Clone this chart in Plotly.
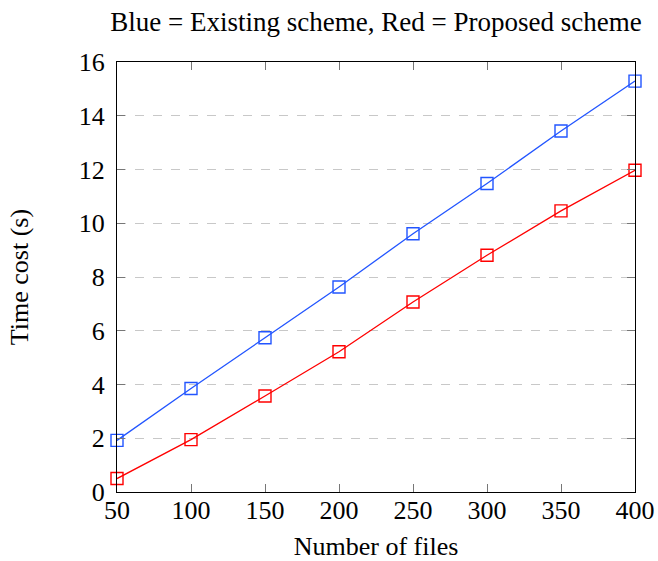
import plotly.graph_objects as go

files = [50, 100, 150, 200, 250, 300, 350, 400]
existing = [1.92, 3.85, 5.74, 7.63, 9.61, 11.48, 13.43, 15.29]
proposed = [0.50, 1.95, 3.57, 5.22, 7.07, 8.81, 10.46, 11.97]
x_ticks = [50, 100, 150, 200, 250, 300, 350, 400]
y_ticks = [0, 2, 4, 6, 8, 10, 12, 14, 16]

fig = go.Figure()
fig.add_trace(go.Scatter(
    x=files, y=existing, mode="lines+markers", name="Existing scheme",
    line=dict(color="#2255ff", width=1.3),
    marker=dict(symbol="square-open", size=12, color="#2255ff", line=dict(width=1.4)),
    cliponaxis=False,
))
fig.add_trace(go.Scatter(
    x=files, y=proposed, mode="lines+markers", name="Proposed scheme",
    line=dict(color="#ff0000", width=1.3),
    marker=dict(symbol="square-open", size=12, color="#ff0000", line=dict(width=1.4)),
    cliponaxis=False,
))

font = dict(family="Liberation Serif", size=26, color="black")
W, H = 658, 561
fig.update_layout(
    width=W, height=H,
    margin=dict(l=117, r=23, t=62, b=69, autoexpand=False),
    paper_bgcolor="white", plot_bgcolor="white",
    showlegend=False,
    font=font,
    title=dict(text="Blue = Existing scheme, Red = Proposed scheme",
               x=0.5, xref="paper", xanchor="center",
               y=1 - 22 / H, yref="container", yanchor="middle",
               font=dict(family="Liberation Serif", size=27, color="black")),
)
fig.update_xaxes(
    range=[50, 400], tickvals=x_ticks, ticks="inside", ticklen=8,
    tickcolor="#777", mirror="allticks", showline=True, linecolor="black",
    linewidth=1, showgrid=False, zeroline=False, automargin=False,
    title=dict(text="Number of files", standoff=16, font=font),
    tickfont=font, ticklabelstandoff=-5,
)
fig.update_yaxes(
    range=[0, 16], tickvals=y_ticks, ticks="inside", ticklen=8,
    tickcolor="#777", mirror="allticks", showline=True, linecolor="black",
    linewidth=1, showgrid=True, gridcolor="#c8c8c8", griddash="dash",
    gridwidth=1, zeroline=False, automargin=False,
    title=dict(text="Time cost (s)", standoff=42, font=font),
    tickfont=font, ticklabelstandoff=6,
)

fig.write_html(
    "out.html",
    config={"displayModeBar": False},
    post_script="document.body.style.margin='0';document.body.style.overflow='hidden';",
)
